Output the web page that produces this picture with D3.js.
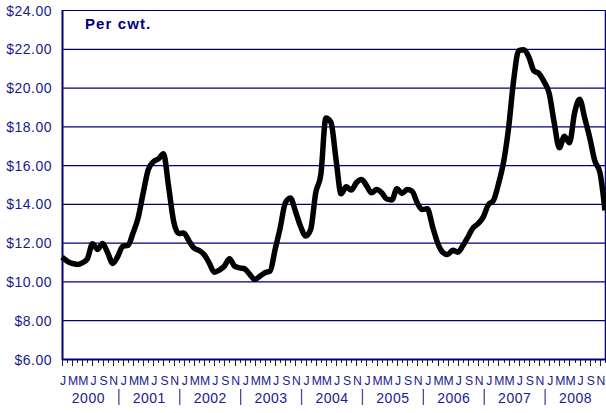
<!DOCTYPE html>
<html><head><meta charset="utf-8">
<script src="https://cdn.jsdelivr.net/npm/d3@7"></script>
<style>
body{margin:0;background:#fff;}
svg{display:block;font-family:"Liberation Sans",Arial,sans-serif;}
</style></head>
<body><svg id="c" width="606" height="413"></svg>
<script>
const years = [2000,2001,2002,2003,2004,2005,2006,2007,2008];
const monthLetters = ["J","M","M","J","S","N"];
const yTicks = [6,8,10,12,14,16,18,20,22,24];
const unitLabel = "Per cwt.";
// monthly price, Jan 2000 - Dec 2008 ($ per cwt)
const prices2000 = [11.25,11.05,10.93,10.88,10.96,11.17,11.94,11.65,11.96,11.48,10.93,11.30];
const prices2001 = [11.82,11.86,12.50,13.28,14.57,15.77,16.17,16.32,16.58,14.91,13.10,12.47];
const prices2002 = [12.50,12.10,11.72,11.60,11.39,10.96,10.48,10.58,10.79,11.17,10.79,10.70];
const prices2003 = [10.65,10.36,10.10,10.27,10.45,10.53,11.65,12.77,14.05,14.31,13.62,12.85];
const prices2004 = [12.34,12.68,14.57,15.51,18.43,18.20,16.29,14.52,14.88,14.71,15.09,15.26];
const prices2005 = [14.95,14.57,14.74,14.57,14.25,14.20,14.78,14.54,14.74,14.65,14.05,13.71];
const prices2006 = [13.75,12.85,12.00,11.51,11.39,11.61,11.51,11.85,12.30,12.76,12.98,13.32];
const prices2007 = [13.95,14.17,15.02,16.13,17.91,20.38,21.91,21.95,21.57,20.86,20.72,20.30];
const prices2008 = [19.70,18.17,16.89,17.49,17.15,18.68,19.40,18.43,17.40,16.21,15.62,13.66];

const prices = [].concat(prices2000,prices2001,prices2002,prices2003,prices2004,prices2005,prices2006,prices2007,prices2008);

const navy = "#000080", textCol = "#1a1a8c";
const L = 62, R = 605, T = 10, B = 359;
const svg = d3.select("#c");
const x = d3.scaleLinear().domain([0, prices.length-1]).range([L, R]);
const y = d3.scaleLinear().domain([6, 24]).range([B, T]);

// grid
svg.append("g").selectAll("line").data(yTicks.filter(v=>v>6)).join("line")
  .attr("x1",L).attr("x2",R).attr("y1",d=>y(d)+0.5).attr("y2",d=>y(d)+0.5)
  .attr("stroke",navy).attr("stroke-width",1.2);
// right border
svg.append("line").attr("x1",R+0.5).attr("x2",R+0.5).attr("y1",T).attr("y2",B)
  .attr("stroke",navy).attr("stroke-width",1.5);

// y labels
svg.append("g").selectAll("text").data(yTicks).join("text")
  .attr("x",52).attr("y",d=>y(d)+5.5).attr("text-anchor","end")
  .attr("font-size",14).attr("letter-spacing",0.5).attr("fill",textCol)
  .text(d=>"$"+d.toFixed(2));

// ticks on x axis
const idx = d3.range(prices.length);
svg.append("g").selectAll("line").data(idx).join("line")
  .attr("x1",d=>Math.round(x(d))+0.5).attr("x2",d=>Math.round(x(d))+0.5)
  .attr("y1",B).attr("y2",d=> d%2===0 ? B+7 : B+4)
  .attr("stroke","#222").attr("stroke-width",1);

// axes lines
svg.append("line").attr("x1",L).attr("x2",R+1).attr("y1",B+0.5).attr("y2",B+0.5)
  .attr("stroke",navy).attr("stroke-width",2);
svg.append("line").attr("x1",L+0.5).attr("x2",L+0.5).attr("y1",T).attr("y2",B+1)
  .attr("stroke",navy).attr("stroke-width",2);

// month letters
svg.append("g").selectAll("text").data(idx.filter(i=>i%2===0)).join("text")
  .attr("x",d=>x(d)+1).attr("y",385).attr("text-anchor","middle")
  .attr("font-size",12.2).attr("fill",textCol)
  .text(d=>monthLetters[(d%12)/2]);

// year labels
svg.append("g").selectAll("text").data(years).join("text")
  .attr("x",(d,i)=>x(i*12+5.5)-1.5).attr("y",403).attr("text-anchor","middle")
  .attr("font-size",14).attr("letter-spacing",0.5).attr("fill",textCol)
  .text(d=>d);
// year separators
svg.append("g").selectAll("line").data(years.slice(0,-1)).join("line")
  .attr("x1",(d,i)=>x(i*12+11.5)-1.5).attr("x2",(d,i)=>x(i*12+11.5)-1.5)
  .attr("y1",389).attr("y2",405).attr("stroke","#4a4aa0").attr("stroke-width",1.3);

// title
svg.append("text").attr("x",85).attr("y",29).attr("font-size",15).attr("font-weight","bold")
  .attr("letter-spacing",1.1).attr("fill",navy).text(unitLabel);

// line
const line = d3.line().x((d,i)=>x(i)).y(d=>y(d)).curve(d3.curveMonotoneX);
svg.append("path").datum(prices).attr("d",line).attr("fill","none")
  .attr("stroke","#000").attr("stroke-width",5.5).attr("stroke-linejoin","round").attr("stroke-linecap","butt");
</script></body></html>
